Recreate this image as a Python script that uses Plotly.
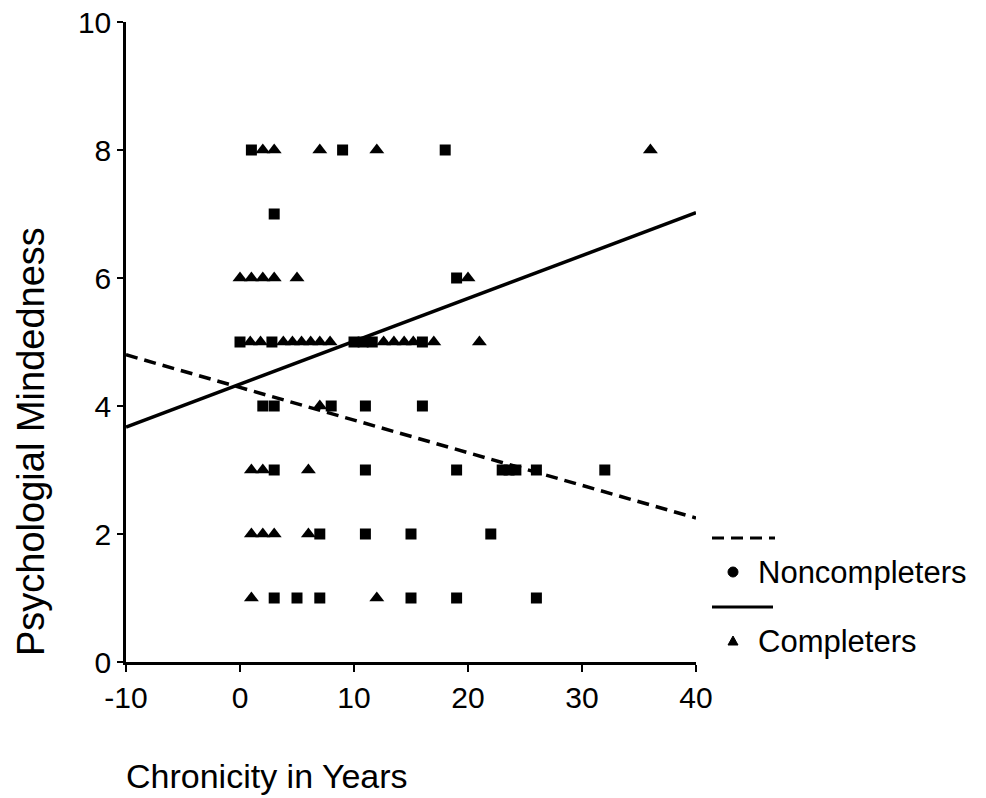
import plotly.graph_objects as go

# ---- data ----
non_x = [1, 9, 18,
         3,
         19,
         0, 2.8, 10, 10.8, 11.6, 16,
         2, 3, 8, 11, 16,
         3, 11, 19, 23, 23.6, 24.2, 26, 32,
         7, 11, 15, 22,
         3, 5, 7, 15, 19, 26]
non_y = [8, 8, 8,
         7,
         6,
         5, 5, 5, 5, 5, 5,
         4, 4, 4, 4, 4,
         3, 3, 3, 3, 3, 3, 3, 3,
         2, 2, 2, 2,
         1, 1, 1, 1, 1, 1]

comp_x = [2, 3, 7, 12, 36,
          0, 1, 2, 3, 5, 20,
          0.9, 1.8, 3.8, 4.6, 5.4, 6.2, 7.0, 7.9, 12.6, 13.5, 14.4, 15.2, 17, 21,
          7,
          1, 2, 6,
          1, 2, 3, 6,
          1, 12]
comp_y = [8, 8, 8, 8, 8,
          6, 6, 6, 6, 6, 6,
          5, 5, 5, 5, 5, 5, 5, 5, 5, 5, 5, 5, 5, 5,
          4,
          3, 3, 3,
          2, 2, 2, 2,
          1, 1]

# regression lines (endpoints)
fit_x = [-10, 40]
non_fit_y = [4.8, 2.25]
comp_fit_y = [3.67, 7.02]

x_ticks = [-10, 0, 10, 20, 30, 40]
y_ticks = [0, 2, 4, 6, 8, 10]

FONT = "Liberation Sans, Arial, sans-serif"
DASH = "12px,7px"

fig = go.Figure()
fig.add_trace(go.Scatter(x=fit_x, y=non_fit_y, mode="lines",
                         line=dict(color="black", width=3.5, dash=DASH),
                         showlegend=False, cliponaxis=False))
fig.add_trace(go.Scatter(x=fit_x, y=comp_fit_y, mode="lines",
                         line=dict(color="black", width=3.5),
                         showlegend=False, cliponaxis=False))
fig.add_trace(go.Scatter(x=non_x, y=non_y, mode="markers",
                         marker=dict(symbol="square", size=11, color="black"),
                         showlegend=False, cliponaxis=False))
fig.add_trace(go.Scatter(x=comp_x, y=comp_y, mode="markers",
                         marker=dict(symbol="triangle-up", size=13, color="black"),
                         showlegend=False, cliponaxis=False))

OFF = 8  # page body margin
W, H = 986 - OFF, 798 - OFF
L, T = 126 - OFF, 22 - OFF
pw, ph = 570, 640
R, B = W - L - pw, H - T - ph


def px(xs):
    return (xs - OFF - L) / pw


def py(ys):
    return (H - B - (ys - OFF)) / ph


shapes = []
shapes.append(dict(type="line", xref="paper", yref="paper",
                   x0=px(712), x1=px(775), y0=py(538), y1=py(538),
                   line=dict(color="black", width=3, dash=DASH)))
shapes.append(dict(type="circle", xref="paper", yref="paper",
                   x0=px(728), x1=px(738), y0=py(577), y1=py(567),
                   fillcolor="black", line=dict(color="black", width=1)))
shapes.append(dict(type="line", xref="paper", yref="paper",
                   x0=px(712), x1=px(773), y0=py(607), y1=py(607),
                   line=dict(color="black", width=3)))
tri = "M {} {} L {} {} L {} {} Z".format(px(728), py(645), px(738), py(645), px(733), py(636))
shapes.append(dict(type="path", xref="paper", yref="paper", path=tri,
                   fillcolor="black", line=dict(color="black", width=1)))

annotations = [
    dict(text="Noncompleters", xref="paper", yref="paper", x=px(756), y=py(572),
         xanchor="left", yanchor="middle", showarrow=False,
         font=dict(size=31, color="black", family=FONT)),
    dict(text="Completers", xref="paper", yref="paper", x=px(756), y=py(641),
         xanchor="left", yanchor="middle", showarrow=False,
         font=dict(size=31, color="black", family=FONT)),
    dict(text="Chronicity in Years", xref="paper", yref="paper", x=px(124), y=py(776),
         xanchor="left", yanchor="middle", showarrow=False,
         font=dict(size=34, color="black", family=FONT)),
    dict(text="Psychologial Mindedness", xref="paper", yref="paper", x=px(31), y=py(442),
         xanchor="center", yanchor="middle", showarrow=False, textangle=-90,
         font=dict(size=38, color="black", family=FONT)),
]

fig.update_layout(
    width=W, height=H,
    margin=dict(l=L, r=R, t=T, b=B, autoexpand=False),
    paper_bgcolor="white", plot_bgcolor="white",
    font=dict(family=FONT, color="black"),
    shapes=shapes, annotations=annotations,
    xaxis=dict(range=[-10, 40], tickvals=x_ticks, ticktext=[str(v) for v in x_ticks],
               showgrid=False, zeroline=False, showline=True, linecolor="black",
               linewidth=2.5, ticks="outside", ticklen=7, tickwidth=2, tickcolor="black",
               ticklabeloverflow="allow",
               tickfont=dict(size=30, family=FONT, color="black")),
    yaxis=dict(range=[0, 10], tickvals=y_ticks, ticktext=[str(v) for v in y_ticks],
               showgrid=False, zeroline=False, showline=True, linecolor="black",
               linewidth=2.5, ticks="outside", ticklen=6, tickwidth=2, tickcolor="black",
               ticklabeloverflow="allow",
               tickfont=dict(size=30, family=FONT, color="black")),
)

fig.write_html("out.html")
